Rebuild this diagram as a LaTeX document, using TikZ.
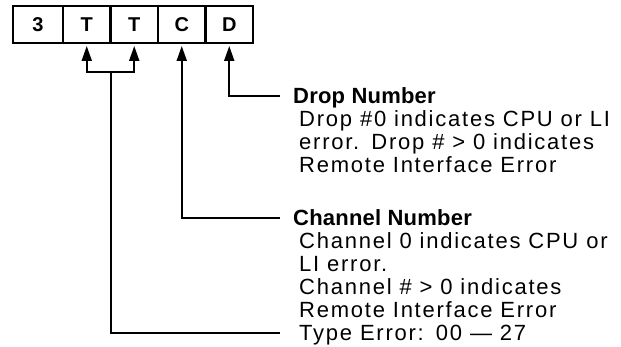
\documentclass[tikz,border=0pt]{standalone}
\usepackage{fontspec}
\setmainfont{Liberation Sans}
\usetikzlibrary{positioning,arrows.meta,calc}
\newcommand{\capline}{\rule{0pt}{16pt}}
\newcommand{\headline}[1]{{\bfseries\addfontfeature{LetterSpace=1}#1}}

\begin{document}
\begin{tikzpicture}[
  x=1pt, y=-1pt,
  cell/.style={draw, line width=2.2pt, outer sep=0pt, inner sep=0pt, minimum width=47.5pt, minimum height=37pt, font=\fontsize{20}{22}\selectfont\bfseries},
  arr/.style={-{Triangle[length=15pt,width=10pt]}, line width=2pt, shorten >=3pt},
  wire/.style={line width=2pt},
  lab/.style={anchor=north west, align=left, inner sep=0pt, font=\fontsize{22}{23}\selectfont\addfontfeature{LetterSpace=8}},
]
\useasboundingbox (0,0) rectangle (621,347);
% ---- the five-digit code ----
\node[cell, minimum width=50pt] (dig3) at (38,24.5) {3};
\node[cell, right=0pt of dig3] (typea) {T};
\node[cell, right=0pt of typea] (typeb) {T};
\node[cell, right=0pt of typeb] (chan) {C};
\node[cell, right=0pt of chan] (drop) {D};
% ---- explanations (first baseline 16pt below the node top) ----
\node[lab] (droplab) at (293,87.5) {\capline\headline{Drop Number}\\ \hspace{6pt}Drop \#0 indicates CPU or LI\\ \hspace{6pt}error.\hspace{0.55em}Drop \# > 0 indicates\\ \hspace{6pt}Remote Interface Error};
\node[lab] (chanlab) at (293,209.5) {\capline\headline{Channel Number}\\ \hspace{6pt}Channel 0 indicates CPU or\\ \hspace{6pt}LI error.\\ \hspace{6pt}Channel \# > 0 indicates\\ \hspace{6pt}Remote Interface Error};
\node[lab] (typelab) at (299,324.5) {\capline Type Error:\hspace{0.55em}00 — 27};
% ---- leader ends ----
\coordinate (dropend) at ([shift={(-13pt,-8.5pt)}]droplab.north west);
\coordinate (chanend) at ([shift={(-13pt,-8.5pt)}]chanlab.north west);
\coordinate (typeend) at ([shift={(-19pt,-8.5pt)}]typelab.north west);
\coordinate (fork) at ($(typea.south)!0.5!(typeb.south)+(0,29)$);
% ---- arrows ----
\draw[arr] (dropend) -| (drop.south);
\draw[arr] (chanend) -| (chan.south);
\draw[wire] (typeend) -| (fork);
\draw[arr] (fork) -| (typea.south);
\draw[arr] (fork) -| (typeb.south);
\end{tikzpicture}
\end{document}
